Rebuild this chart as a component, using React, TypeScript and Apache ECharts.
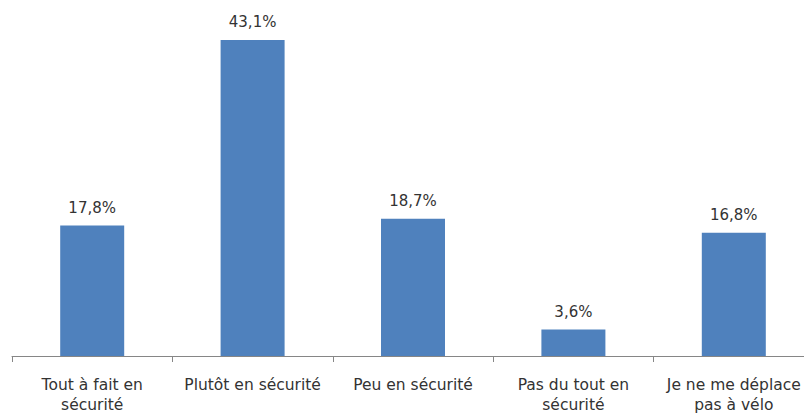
import React, { useEffect, useRef } from "react";
import * as echarts from "echarts";

const categories = [
  "Tout à fait en\nsécurité",
  "Plutôt en sécurité",
  "Peu en sécurité",
  "Pas du tout en\nsécurité",
  "Je ne me déplace\npas à vélo",
];
const values = [17.8, 43.1, 18.7, 3.6, 16.8];

export default function App() {
  const ref = useRef<HTMLDivElement>(null);
  useEffect(() => {
    if (!ref.current) return;
    const chart = echarts.init(ref.current, undefined, { renderer: "svg" });
    chart.setOption({
      animation: false,
      grid: {
        left: 12,
        top: 26,
        width: 802,
        bottom: 58,
        containLabel: false,
        outerBoundsMode: "none",
      },
      xAxis: {
        type: "category",
        data: categories,
        axisLine: { lineStyle: { color: "#868686", width: 1 } },
        axisTick: { show: true, length: 6, lineStyle: { color: "#868686" } },
        axisLabel: {
          color: "#333333",
          fontFamily: "DejaVu Sans",
          fontSize: 15.5,
          lineHeight: 20,
          margin: 19,
          interval: 0,
        },
      },
      yAxis: {
        type: "value",
        min: 0,
        max: 45,
        show: false,
        splitLine: { show: false },
      },
      series: [
        {
          type: "bar",
          data: values,
          barWidth: 64,
          itemStyle: { color: "#4f81bd" },
          label: {
            show: true,
            position: "top",
            distance: 10,
            color: "#333333",
            fontFamily: "DejaVu Sans",
            fontSize: 15,
            formatter: (p: any) => p.value.toFixed(1).replace(".", ",") + "%",
          },
        },
      ],
    });
    return () => chart.dispose();
  }, []);
  return (
    <div
      ref={ref}
      style={{ position: "absolute", left: 0, top: 0, width: 804, height: 414, background: "#fff" }}
    />
  );
}
